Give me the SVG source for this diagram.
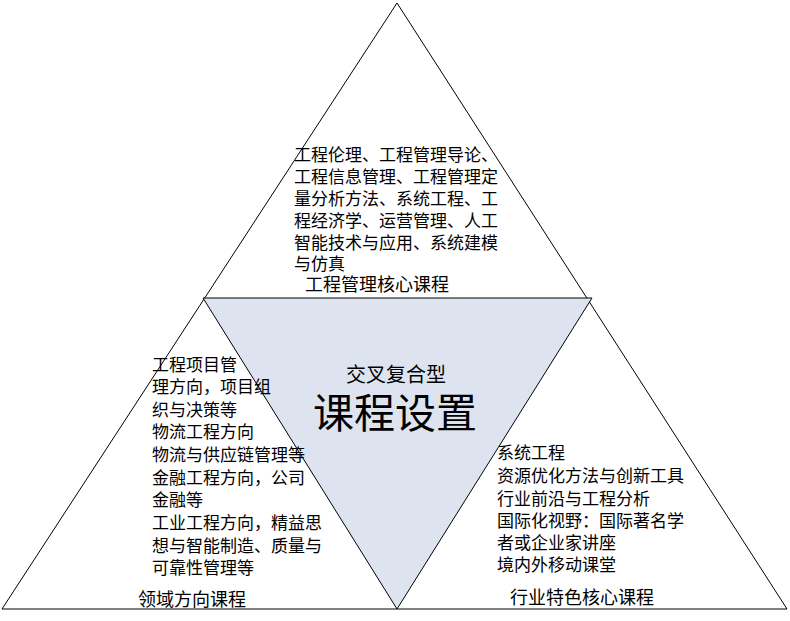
<svg xmlns="http://www.w3.org/2000/svg" width="790" height="621" viewBox="0 0 790 621">
<style>
text{font-family:"Noto Sans CJK SC","Liberation Sans",sans-serif;fill:#000}
.t{font-size:17px}
.l{font-size:18px}
.tri{fill:#fff;stroke:#000;stroke-width:1}
</style>
<rect width="790" height="621" fill="#fff"/>
<g id="outer"><polygon class="tri" points="397,3 2,609 787,609"/></g>
<g id="center"><polygon points="203,298 592,298 397,609" fill="#dde4f0" stroke="#000"/>
<text x="346" y="382" font-size="20">交叉复合型</text>
<text x="313" y="428" font-size="41">课程设置</text></g>
<g id="top" class="t">
<text x="294" y="161">工程伦理、工程管理导论、</text>
<text x="294" y="183">工程信息管理、工程管理定</text>
<text x="294" y="205">量分析方法、系统工程、工</text>
<text x="294" y="227">程经济学、运营管理、人工</text>
<text x="294" y="249">智能技术与应用、系统建模</text>
<text x="294" y="270">与仿真</text>
<text class="l" x="305" y="291">工程管理核心课程</text></g>
<g id="left" class="t">
<text x="152" y="371">工程项目管</text>
<text x="152" y="393">理方向，项目组</text>
<text x="152" y="416">织与决策等</text>
<text x="152" y="438">物流工程方向</text>
<text x="152" y="461">物流与供应链管理等</text>
<text x="152" y="484">金融工程方向，公司</text>
<text x="152" y="506">金融等</text>
<text x="152" y="529">工业工程方向，精益思</text>
<text x="152" y="552">想与智能制造、质量与</text>
<text x="152" y="574">可靠性管理等</text>
<text class="l" x="138" y="606">领域方向课程</text></g>
<g id="right" class="t">
<text x="497" y="459">系统工程</text>
<text x="497" y="482">资源优化方法与创新工具</text>
<text x="497" y="505">行业前沿与工程分析</text>
<text x="497" y="527">国际化视野：国际著名学</text>
<text x="497" y="549">者或企业家讲座</text>
<text x="497" y="571">境内外移动课堂</text>
<text class="l" x="510" y="604">行业特色核心课程</text></g>
<g id="connectors"/>
</svg>
